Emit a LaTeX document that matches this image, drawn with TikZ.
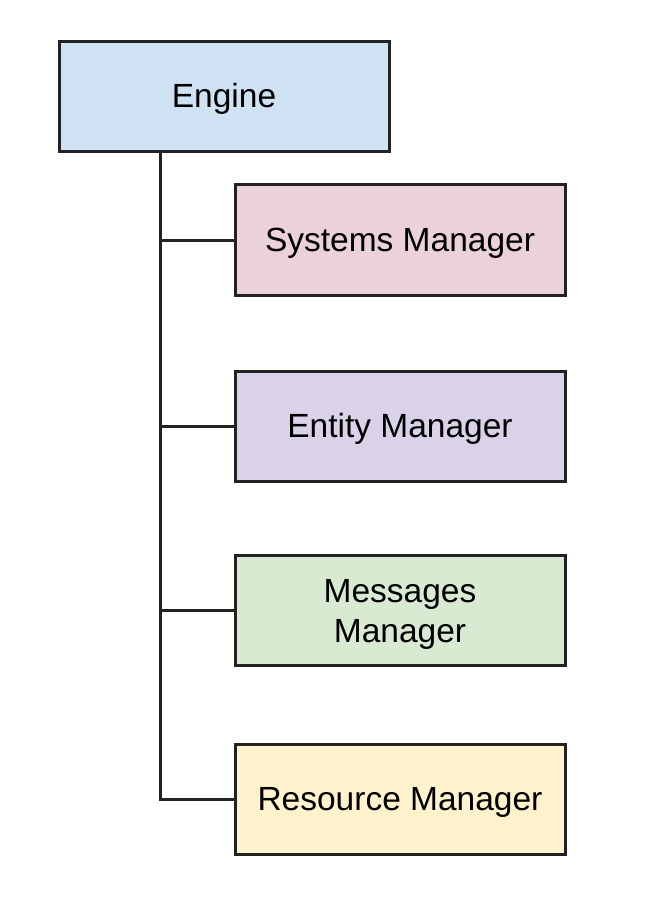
\documentclass[tikz,border=0pt]{standalone}
\usepackage{fontspec}
\setmainfont{Liberation Sans}
\definecolor{enginefill}{HTML}{CFE2F3}
\definecolor{sysfill}{HTML}{EAD1DC}
\definecolor{entfill}{HTML}{D9D2E9}
\definecolor{msgfill}{HTML}{D9EAD3}
\definecolor{resfill}{HTML}{FFF2CC}
\definecolor{edge}{HTML}{222222}
\tikzset{
  mgrbox/.style={draw=edge, line width=3pt, rectangle, minimum width=330pt,
    minimum height=110pt, inner sep=0pt, align=center,
    font=\fontsize{33.5}{40}\selectfont, text height=29pt, text depth=7pt},
  link/.style={draw=edge, line width=3pt}
}
\begin{document}
\begin{tikzpicture}[x=1pt,y=-1pt]
\useasboundingbox (0,0) rectangle (670,920);
\node[mgrbox, fill=enginefill] (engine) at (224,97){Engine};
\node[mgrbox, fill=sysfill] (sys) at (400,240){Systems Manager};
\node[mgrbox, fill=entfill] (ent) at (400,426){Entity Manager};
\node[mgrbox, fill=msgfill, text height=71pt] (msg) at (400,610){Messages\\Manager};
\node[mgrbox, fill=resfill] (res) at (400,799){Resource Manager};
\coordinate (trunk) at (160,799);
\draw[link](engine.south -| trunk) -- (trunk) -- (res.west);
\draw[link](sys.west -| trunk) -- (sys.west);
\draw[link](ent.west -| trunk) -- (ent.west);
\draw[link](msg.west -| trunk) -- (msg.west);
\end{tikzpicture}
\end{document}
